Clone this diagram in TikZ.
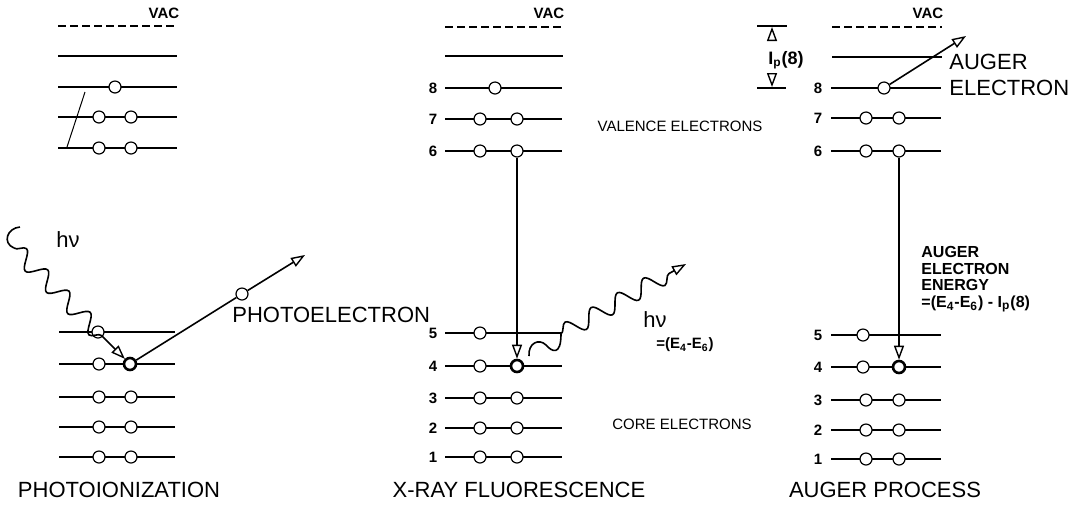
\documentclass[tikz,border=0pt]{standalone}
\usepackage{fontspec}
\setmainfont{Liberation Sans}
\usetikzlibrary{arrows.meta,decorations.pathmorphing}

\tikzset{
  level/.style={line width=1.4pt},
  vaclevel/.style={line width=1.1pt,dash pattern=on 4pt off 2pt},
  elec/.style={circle,draw,fill=white,inner sep=0pt,minimum size=6pt,line width=0.6pt},
  hole/.style={elec,line width=1.3pt},
  tip/.style={-{Triangle[open,length=7pt,width=5pt,line width=0.7pt]}},
  jump/.style={line width=0.8pt,tip},
  photon/.style={line width=0.8pt,decorate,decoration={snake,amplitude=4.2pt,segment length=15pt,post length=9pt}},
  num/.style={inner sep=0pt,font=\fontsize{7.5}{8.5}\selectfont\bfseries},
  small/.style={inner sep=0pt,font=\fontsize{7.5}{9}\selectfont},
  big/.style={inner sep=0pt,font=\fontsize{11}{13}\selectfont},
}

\begin{document}
\begin{tikzpicture}[x=0.5pt,y=-0.5pt]
    \useasboundingbox (0,0) rectangle (1079,511);

    % photoionization
    \draw[vaclevel] (58,26) -- (177,26);
    \node[num] (vacp) at (164,13) {VAC};
    \foreach \y in {56,87,117,148} \draw[level] (58,\y) -- (177,\y);
    \foreach \y in {332,364,397,427,457} \draw[level] (59,\y) -- (175,\y);
    \draw[line width=0.5pt] (85,92) -- (67,147);
    \node[elec] (pa8) at (115,87) {};
    \foreach \n/\y in {7/117,6/148,3/397,2/427,1/457} {
        \node[elec] (pa\n) at (99,\y) {};
        \node[elec] (pb\n) at (131,\y) {};
    }
    \node[elec] (pa5) at (98,332) {};
    \node[elec] (pa4) at (99,364) {};
    \node[hole] (pb4) at (130,364) {};
    \draw[line width=0.8pt] (20,227) .. controls (7,228) and (2,243) .. (14,248);
    \coordinate (hvp) at (14,248);
    \draw[photon,tip] (hvp) -- (pb4);
    \node[big] (hvplab) at (68,240) {hν};
    \coordinate (pe) at (305,255);
    \node[elec] (pfree) at (242,294) {};
    \draw[line width=0.8pt] (pb4) -- (pfree);
    \draw[jump] (pfree) -- (pe);
    \node[big,anchor=west] (pelab) at (232,315) {PHOTOELECTRON};
    \node[big] (titp) at (119,490) {PHOTOIONIZATION};

    % x-ray fluorescence
    \draw[vaclevel] (445,27) -- (563,27);
    \node[num] (vacm) at (549,13) {VAC};
    \draw[level] (445,56) -- (563,56);
    \foreach \n/\y in {8/88,7/119,6/151,5/333,4/366,3/398,2/428,1/457} {
        \draw[level] (445,\y) -- (562,\y);
        \node[num] (mn\n) at (433,\y) {\n};
    }
    \node[elec] (ma8) at (495,88) {};
    \foreach \n/\y in {7/119,6/151,3/398,2/428,1/457} {
        \node[elec] (ma\n) at (480,\y) {};
        \node[elec] (mb\n) at (517,\y) {};
    }
    \node[elec] (ma5) at (480,333) {};
    \node[elec] (ma4) at (480,366) {};
    \node[hole] (mb4) at (517,366) {};
    \draw[jump] (mb6) -- (mb4);
    \draw[line width=0.8pt] (529,356) .. controls (528,343) and (539,338) .. (546,345)
                            .. controls (552,352) and (561,356) .. (561,334);
    \coordinate (hvm) at (561,334);
    \coordinate (xe) at (686,264);
    \draw[photon,tip] (hvm) -- (xe);
    \node[big] (hvmlab) at (655,320) {hν};
    \node[num] (hvmval) at (685,345) {=(E\textsubscript{4}-E\textsubscript{6})};
    \node[small] (val) at (680,126) {VALENCE ELECTRONS};
    \node[small] (core) at (682,424) {CORE ELECTRONS};
    \node[big] (titm) at (519,490) {X-RAY FLUORESCENCE};

    % auger process
    \draw[vaclevel] (832,27) -- (942,27);
    \node[num] (vacr) at (928,13) {VAC};
    \draw[level] (832,57) -- (942,57);
    \foreach \n/\y in {8/88,7/118,6/151,5/335,4/367,3/400,2/430,1/459} {
        \draw[level] (831,\y) -- (941,\y);
        \node[num] (rn\n) at (818,\y) {\n};
    }
    \node[elec] (ra8) at (884,88) {};
    \foreach \n/\y in {7/118,6/151,3/400,2/430,1/459} {
        \node[elec] (ra\n) at (866,\y) {};
        \node[elec] (rb\n) at (899,\y) {};
    }
    \node[elec] (ra5) at (863,335) {};
    \node[elec] (ra4) at (863,367) {};
    \node[hole] (rb4) at (899,367) {};
    \draw[jump] (rb6) -- (rb4);
    \coordinate (ae) at (966,36);
    \draw[jump] (ra8) -- (ae);
    \node[big,anchor=west,align=left] (aelab) at (949,75) {AUGER\\ELECTRON};
    \node[num,anchor=west,align=left,font=\fontsize{8}{8.3}\selectfont\bfseries] (aeen) at (921,279)
        {AUGER\\ELECTRON\\ENERGY\\=(E\textsubscript{4}-E\textsubscript{6}) - I\textsubscript{p}(8)};
    % ionization potential
    \draw[line width=0.9pt] (757,26) -- (787,26);
    \draw[line width=0.9pt] (757,88) -- (786,88);
    \coordinate (ipt) at (772,27);
    \coordinate (ipb) at (772,87);
    \draw[jump] (772,40) -- (ipt);
    \draw[jump] (772,74) -- (ipb);
    \node[num,font=\fontsize{9}{10}\selectfont\bfseries] (iplab) at (786,60) {I\textsubscript{p}(8)};
    \node[big] (titr) at (885,490) {AUGER PROCESS};
\end{tikzpicture}
\end{document}
